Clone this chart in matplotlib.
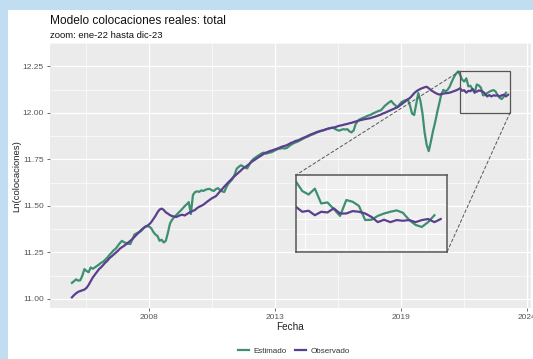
import numpy as np
import matplotlib
matplotlib.use("Agg")
import matplotlib.pyplot as plt
from matplotlib.patches import Rectangle, ConnectionPatch
from matplotlib.lines import Line2D

plt.rcParams["font.family"] = ["Liberation Sans", "DejaVu Sans"]

# Serie mensual (log de colocaciones reales), un valor por mes
observado = [
    11.008, 11.020, 11.030, 11.038, 11.042, 11.046, 11.050, 11.059, 11.075, 11.095, 11.115, 11.130,
    11.145, 11.160, 11.170, 11.182, 11.195, 11.205, 11.219, 11.228, 11.238, 11.248, 11.258, 11.270,
    11.278, 11.285, 11.294, 11.303, 11.312, 11.322, 11.333, 11.345, 11.356, 11.368, 11.378, 11.386,
    11.392, 11.400, 11.412, 11.428, 11.445, 11.465, 11.480, 11.485, 11.478, 11.465, 11.458, 11.450,
    11.445, 11.442, 11.440, 11.445, 11.450, 11.452, 11.448, 11.455, 11.462, 11.468, 11.473, 11.478,
    11.488, 11.495, 11.500, 11.506, 11.515, 11.524, 11.532, 11.540, 11.546, 11.552, 11.565, 11.578,
    11.590, 11.603, 11.615, 11.627, 11.638, 11.650, 11.660, 11.670, 11.680, 11.690, 11.701, 11.708,
    11.716, 11.725, 11.735, 11.743, 11.750, 11.758, 11.765, 11.772, 11.780, 11.786, 11.790, 11.795,
    11.798, 11.802, 11.806, 11.810, 11.815, 11.819, 11.822, 11.826, 11.832, 11.838, 11.842, 11.848,
    11.851, 11.855, 11.861, 11.866, 11.870, 11.876, 11.881, 11.886, 11.890, 11.895, 11.898, 11.902,
    11.905, 11.908, 11.912, 11.915, 11.918, 11.920, 11.922, 11.926, 11.930, 11.932, 11.935, 11.938,
    11.940, 11.944, 11.946, 11.950, 11.953, 11.957, 11.960, 11.962, 11.965, 11.967, 11.969, 11.971,
    11.975, 11.978, 11.982, 11.986, 11.990, 11.996, 12.000, 12.005, 12.010, 12.015, 12.020, 12.025,
    12.030, 12.038, 12.046, 12.055, 12.063, 12.072, 12.080, 12.092, 12.105, 12.115, 12.122, 12.128,
    12.133, 12.137, 12.140, 12.132, 12.122, 12.115, 12.108, 12.102, 12.098, 12.100, 12.103, 12.105,
    12.106, 12.108, 12.112, 12.116, 12.120, 12.125,
    12.132, 12.118, 12.121, 12.108, 12.118, 12.116, 12.128, 12.113, 12.113, 12.120, 12.118, 12.113,
    12.103, 12.088, 12.095, 12.088, 12.094, 12.092, 12.094, 12.088, 12.094, 12.097, 12.088, 12.097,
]

estimado = [
    11.086, 11.095, 11.105, 11.098, 11.100, 11.125, 11.160, 11.150, 11.143, 11.169, 11.162, 11.169,
    11.177, 11.185, 11.194, 11.200, 11.211, 11.222, 11.236, 11.248, 11.261, 11.270, 11.285, 11.300,
    11.312, 11.304, 11.300, 11.296, 11.295, 11.321, 11.346, 11.352, 11.358, 11.363, 11.375, 11.388,
    11.392, 11.388, 11.380, 11.360, 11.346, 11.338, 11.312, 11.318, 11.303, 11.312, 11.355, 11.405,
    11.425, 11.439, 11.450, 11.462, 11.473, 11.485, 11.498, 11.508, 11.520, 11.456, 11.558, 11.574,
    11.578, 11.575, 11.583, 11.580, 11.586, 11.590, 11.591, 11.584, 11.580, 11.590, 11.595, 11.585,
    11.578, 11.574, 11.600, 11.620, 11.632, 11.645, 11.668, 11.700, 11.710, 11.718, 11.712, 11.705,
    11.701, 11.722, 11.740, 11.752, 11.760, 11.768, 11.775, 11.782, 11.786, 11.780, 11.784, 11.786,
    11.790, 11.796, 11.802, 11.806, 11.808, 11.810, 11.808, 11.811, 11.820, 11.828, 11.835, 11.840,
    11.844, 11.850, 11.856, 11.862, 11.868, 11.872, 11.878, 11.882, 11.887, 11.892, 11.898, 11.901,
    11.904, 11.908, 11.912, 11.916, 11.918, 11.920, 11.914, 11.908, 11.904, 11.908, 11.912, 11.910,
    11.912, 11.900, 11.895, 11.905, 11.940, 11.955, 11.965, 11.970, 11.975, 11.980, 11.985, 11.988,
    11.995, 12.000, 12.005, 12.010, 12.013, 12.025, 12.038, 12.047, 12.056, 12.064, 12.050, 12.040,
    12.030, 12.045, 12.058, 12.064, 12.068, 12.072, 12.039, 11.996, 11.988, 12.047, 12.106, 12.064,
    11.996, 11.895, 11.828, 11.794, 11.844, 11.900, 11.946, 12.000, 12.050, 12.098, 12.123, 12.115,
    12.123, 12.140, 12.166, 12.190, 12.209, 12.222,
    12.205, 12.178, 12.168, 12.185, 12.142, 12.145, 12.126, 12.106, 12.152, 12.147, 12.135, 12.094,
    12.095, 12.106, 12.113, 12.118, 12.122, 12.115, 12.094, 12.080, 12.074, 12.088, 12.108,
]

# etiquetas del eje de fechas (posiciones en meses desde el inicio)
x_ticks = [36.9, 97.3, 157.7, 218.1]
x_labels = ["2008", "2013", "2019", "2024"]
y_ticks = [11.00, 11.25, 11.50, 11.75, 12.00, 12.25]

# ventana del zoom: ene-22 a dic-23
zoom_x = (186, 210)
zoom_y = (12.0015, 12.2245)

COL_EST = "#3d8f70"
COL_OBS = "#5a3f8e"
PANEL = "#EBEBEB"

W, H = 533, 359
fig = plt.figure(figsize=(W / 100, H / 100), dpi=100, facecolor="#C0DDF1")

# fondo blanco del gráfico
fig.patches.append(Rectangle((8 / W, 0), 1, 1 - 10 / H, transform=fig.transFigure,
                             facecolor="white", edgecolor="none", zorder=-10))


def px_axes(left, top, right, bottom):
    return fig.add_axes([left / W, 1 - bottom / H, (right - left) / W, (bottom - top) / H])


ax = px_axes(50, 43, 531, 308)
ax.set_facecolor(PANEL)
x_obs = np.arange(len(observado))
x_est = np.arange(len(estimado))
ax.plot(x_est, estimado, color=COL_EST, lw=1.6, zorder=3)
ax.plot(x_obs, observado, color=COL_OBS, lw=1.6, zorder=3)

ax.set_xlim(-10.5, 220.0)
ax.set_ylim(10.951, 12.294)
ax.set_xticks(x_ticks)
ax.set_xticklabels(x_labels)
ax.set_xticks([(a + b) / 2 for a, b in zip([-23.5] + x_ticks[:-1], x_ticks)], minor=True)
ax.set_yticks(y_ticks)
ax.set_yticklabels([f"{v:.2f}" for v in y_ticks])
ax.set_yticks([v + 0.125 for v in y_ticks], minor=True)
ax.grid(which="major", color="white", lw=0.9)
ax.grid(which="minor", color="white", lw=0.45)
ax.set_axisbelow(True)
for s in ax.spines.values():
    s.set_visible(False)
ax.tick_params(which="major", length=2.5, width=0.6, color="#555555",
               labelsize=6, labelcolor="#555555", pad=2)
ax.tick_params(which="minor", length=0)

# recuadro del zoom en el panel principal
ax.add_patch(Rectangle((zoom_x[0], zoom_y[0]), zoom_x[1] - zoom_x[0], zoom_y[1] - zoom_y[0],
                       fill=False, edgecolor="#555555", lw=0.9, zorder=4))

# panel ampliado
axins = px_axes(296, 175, 447, 252)
axins.set_facecolor("#EFEFEF")
axins.plot(x_est, estimado, color=COL_EST, lw=1.6)
axins.plot(x_obs, observado, color=COL_OBS, lw=1.6)
axins.set_xlim(*zoom_x)
axins.set_ylim(*zoom_y)
axins.set_xticks(np.arange(187.5, 210, 3.2))
axins.set_yticks([12.011, 12.054, 12.098, 12.141, 12.185])
axins.grid(color="white", lw=0.7)
axins.set_axisbelow(True)
axins.tick_params(length=0, labelbottom=False, labelleft=False)
for s in axins.spines.values():
    s.set_color("#555555")
    s.set_linewidth(1.1)

for pa, pb in [((zoom_x[0], zoom_y[1]), (0, 1)), ((zoom_x[1], zoom_y[0]), (1, 0))]:
    con = ConnectionPatch(xyA=pa, coordsA=ax.transData, xyB=pb, coordsB=axins.transAxes,
                          color="#555555", lw=0.7, linestyle=(0, (3, 2.5)))
    fig.add_artist(con)

fig.text(50 / W, 1 - 21 / H, "Modelo colocaciones reales: total", fontsize=8.6,
         ha="left", va="center", color="#111111")
fig.text(50 / W, 1 - 36 / H, "zoom: ene-22 hasta dic-23", fontsize=6.8,
         ha="left", va="center", color="#111111")
fig.text(17 / W, 1 - 176 / H, "Ln(colocaciones)", fontsize=6.8, rotation=90,
         ha="center", va="center", color="#222222")
fig.text(290 / W, 1 - 327 / H, "Fecha", fontsize=7.2, ha="center", va="center",
         color="#222222")

handles = [Line2D([], [], color=COL_EST, lw=1.6), Line2D([], [], color=COL_OBS, lw=1.6)]
fig.legend(handles, ["Estimado", "Observado"], loc="center",
           bbox_to_anchor=(294 / W, 1 - 351 / H), ncol=2, frameon=False,
           fontsize=5.8, handlelength=1.4, columnspacing=1.0, handletextpad=0.6,
           labelcolor="#333333")

fig.savefig("out.png", dpi=100, facecolor=fig.get_facecolor())
